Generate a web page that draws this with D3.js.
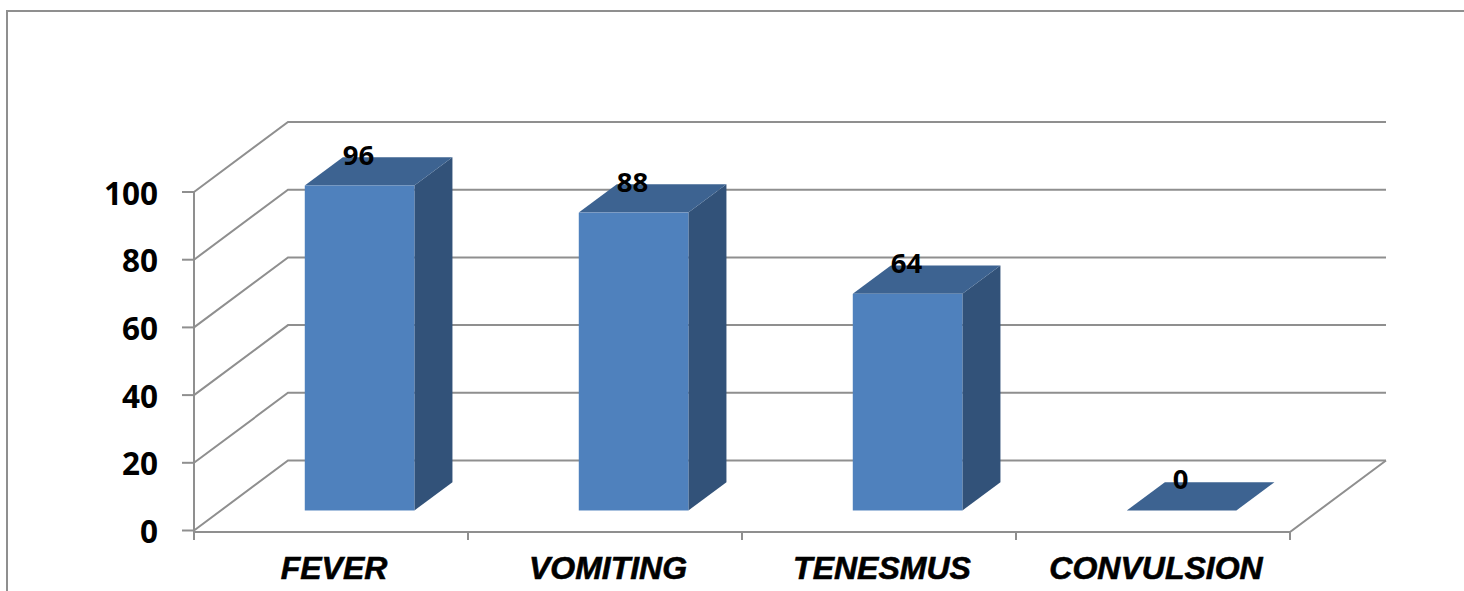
<!DOCTYPE html>
<html>
<head>
<meta charset="utf-8">
<script src="https://cdn.jsdelivr.net/npm/d3@7/dist/d3.min.js"></script>
<style>
html,body{margin:0;padding:0;background:#fff;overflow:hidden}
svg{display:block}
</style>
</head>
<body>
<svg id="chart" width="1464" height="591"></svg>
<script>
// Chart values
const categories = ["FEVER", "VOMITING", "TENESMUS", "CONVULSION"];
const values = [96, 88, 64, 0];
const yTicks = [0, 20, 40, 60, 80, 100];

// Colours
const gridColor = "#8f8f8f";
const faceFront = "#4f81bd";
const faceTop = "#3d6391";
const faceSide = "#325279";

// Pseudo-3D layout: the floor recedes along (depthX, depthY)
const depthX = 94, depthY = -70;
const barDepth = 0.405;      // fraction of the depth taken by a bar
const barInsetX = 0.304;     // horizontal shift of a bar's front face, as a depth fraction
const barInsetY = 0.286;     // vertical shift of a bar's front face, as a depth fraction

const svg = d3.select("#chart");
const x = d3.scaleBand().domain(categories).range([194, 1290]).paddingInner(0).paddingOuter(0);
const y = d3.scaleLinear().domain([0, 100]).range([530.5, 192]);
const barW = x.bandwidth() * 0.4;
const floorY = 532;

const line = d3.line();
const grid = svg.append("g").attr("fill", "none").attr("stroke", gridColor).attr("stroke-width", 2);

// Outer chart frame
grid.append("path").attr("d", line([[7, 591], [7, 11], [1464, 11]]));

// Wall grid lines: each folds from the side wall onto the back wall
grid.selectAll("path.wall").data(yTicks).join("path").attr("class", "wall")
  .attr("d", t => line([[194, y(t)], [194 + depthX, y(t) + depthY], [1386, y(t) + depthY]]));

// Value axis, category axis and floor edge
grid.append("path").attr("d", line([[194, y(100)], [194, floorY + 8]]));
grid.append("path").attr("d", line([[194, floorY], [1290, floorY], [1386, y(0) + depthY]]));
grid.selectAll("path.ytick").data(yTicks).join("path").attr("class", "ytick")
  .attr("d", t => line([[182, y(t)], [194, y(t)]]));
grid.selectAll("path.xtick").data(d3.range(categories.length + 1)).join("path").attr("class", "xtick")
  .attr("d", i => line([[194 + i * x.step(), floorY], [194 + i * x.step(), floorY + 8]]));

// Bars: side, top and front faces
const offX = depthX * barInsetX, offY = depthY * barInsetY;
const dX = depthX * barDepth, dY = depthY * barDepth;
const bars = svg.append("g").selectAll("g").data(categories.map((c, i) => ({c, v: values[i]}))).join("g");
const barLeft = d => x(d.c) + (x.bandwidth() - barW) / 2 + offX;
const barBase = y(0) + offY;
const barTop = d => barBase - (y(0) - y(d.v));

bars.filter(d => d.v > 0).append("path").attr("fill", faceSide)
  .attr("d", d => { const r = barLeft(d) + barW; return line([[r, barBase], [r + dX, barBase + dY], [r + dX, barTop(d) + dY], [r, barTop(d)]]) + "Z"; });
bars.append("path").attr("fill", faceTop)
  .attr("d", d => { const l = barLeft(d), t = barTop(d); return line([[l, t], [l + dX, t + dY], [l + barW + dX, t + dY], [l + barW, t]]) + "Z"; });
bars.filter(d => d.v > 0).append("rect").attr("fill", faceFront)
  .attr("x", barLeft).attr("y", barTop).attr("width", barW).attr("height", d => barBase - barTop(d));

// Value labels
bars.append("text").text(d => d.v)
  .attr("x", d => barLeft(d) + barW / 2 - 1).attr("y", d => barTop(d) - 21)
  .attr("text-anchor", "middle").attr("font-family", "Noto Sans").attr("font-weight", 700)
  .attr("font-size", 27.5).attr("fill", "#000");

// Value axis labels
svg.append("g").selectAll("text").data(yTicks).join("text").text(t => t)
  .attr("x", 158).attr("y", t => y(t) + 12.5).attr("text-anchor", "end")
  .attr("font-family", "Noto Sans").attr("font-weight", 700).attr("font-size", 31.5).attr("fill", "#000");

// Category labels
svg.append("g").selectAll("text").data(categories).join("text").text(c => c)
  .attr("x", c => x(c) + x.bandwidth() / 2 + 3).attr("y", 579).attr("text-anchor", "middle")
  .attr("font-family", "Liberation Sans").attr("font-weight", 700).attr("font-style", "italic")
  .attr("font-size", 32).attr("fill", "#000").attr("stroke", "#000").attr("stroke-width", 0.6);
</script>
</body>
</html>
